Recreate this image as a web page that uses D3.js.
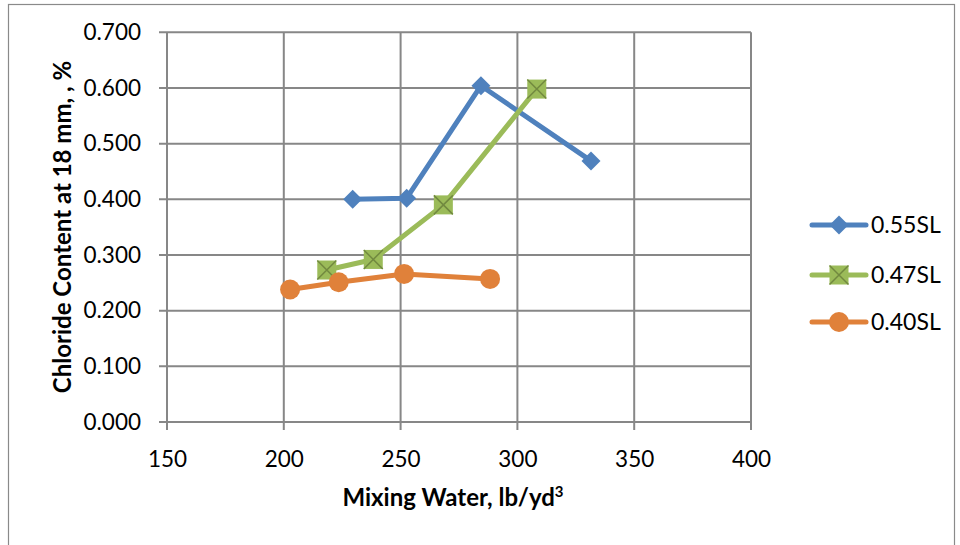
<!DOCTYPE html>
<html><head><meta charset="utf-8">
<script src="https://cdn.jsdelivr.net/npm/d3@7"></script>
<style>body{margin:0;background:#fff}svg{display:block}</style>
</head><body>
<svg id="c" width="960" height="545"></svg>
<script>
const seriesNames = ["0.55SL", "0.47SL", "0.40SL"];
const x55 = [229.5, 252.6, 284.4, 331.5];
const y55 = [0.400, 0.402, 0.604, 0.469];
const x47 = [218.4, 238.3, 268.3, 308.3];
const y47 = [0.273, 0.292, 0.390, 0.598];
const x40 = [202.7, 223.5, 251.5, 288.3];
const y40 = [0.238, 0.251, 0.266, 0.257];
const xTicks = [150, 200, 250, 300, 350, 400];
const yTicks = [0, 0.1, 0.2, 0.3, 0.4, 0.5, 0.6, 0.7];
const xTitle = "Mixing Water, lb/yd";
const yTitle = "Chloride Content at 18 mm, , %";

const colors = ["#4F81BD", "#9BBB59", "#E0813A"];
const markers = ["diamond", "xsquare", "circle"];
const series = [
  {name: seriesNames[0], xs: x55, ys: y55},
  {name: seriesNames[1], xs: x47, ys: y47},
  {name: seriesNames[2], xs: x40, ys: y40}
];

const svg = d3.select("#c");
const font = "Lato, 'Open Sans', sans-serif";
svg.append("rect").attr("x", 8.5).attr("y", 4.5).attr("width", 946).attr("height", 545)
  .attr("fill", "#fff").attr("stroke", "#8a8a8a").attr("stroke-width", 1.2);

const x = d3.scaleLinear().domain([150, 400]).range([167, 751]);
const y = d3.scaleLinear().domain([0, 0.7]).range([422, 32.3]);
const gridColor = "#878787";

const g = svg.append("g");
g.selectAll(".vg").data(xTicks).join("line")
  .attr("x1", d => x(d)).attr("x2", d => x(d)).attr("y1", y(0.7)).attr("y2", y(0) + 8)
  .attr("stroke", gridColor).attr("stroke-width", 2);
g.selectAll(".hg").data(yTicks).join("line")
  .attr("x1", x(150) - 8).attr("x2", x(400)).attr("y1", d => y(d)).attr("y2", d => y(d))
  .attr("stroke", gridColor).attr("stroke-width", 2);

const xAxis = svg.append("g").attr("transform", `translate(0,${y(0)})`)
  .call(d3.axisBottom(x).tickValues(xTicks).tickSize(0).tickPadding(29).tickFormat(d3.format("d")));
xAxis.select(".domain").remove();
xAxis.selectAll("text").attr("font-family", font).attr("font-size", 22.5).attr("fill", "#000");

const yAxis = svg.append("g").attr("transform", `translate(${x(150)},0)`)
  .call(d3.axisLeft(y).tickValues(yTicks).tickSize(0).tickPadding(26).tickFormat(d3.format(".3f")));
yAxis.select(".domain").remove();
yAxis.selectAll("text").attr("font-family", font).attr("font-size", 22.5).attr("fill", "#000");

const xt = svg.append("text").attr("x", 453).attr("y", 506).attr("text-anchor", "middle")
  .attr("font-family", font).attr("font-size", 24).attr("font-weight", "bold").attr("fill", "#000");
xt.append("tspan").text(xTitle);
xt.append("tspan").attr("dy", -9).attr("font-size", 15).text("3");

svg.append("text").attr("transform", "translate(71,227) rotate(-90)").attr("text-anchor", "middle")
  .attr("font-family", font).attr("font-size", 24).attr("font-weight", "bold").attr("fill", "#000")
  .text(yTitle);

function drawMarker(sel, type, color, cx, cy) {
  if (type === "diamond") {
    sel.append("path").attr("d", `M${cx},${cy-9.5}L${cx+9.5},${cy}L${cx},${cy+9.5}L${cx-9.5},${cy}Z`)
      .attr("fill", color);
  } else if (type === "xsquare") {
    sel.append("rect").attr("x", cx-9.5).attr("y", cy-9.5).attr("width", 19).attr("height", 19).attr("fill", color);
    sel.append("path").attr("d", `M${cx-9.5},${cy-9.5}L${cx+9.5},${cy+9.5}M${cx+9.5},${cy-9.5}L${cx-9.5},${cy+9.5}`)
      .attr("stroke", "#71893F").attr("stroke-width", 1.5);
  } else {
    sel.append("circle").attr("cx", cx).attr("cy", cy).attr("r", 10).attr("fill", color);
  }
}

const line = d3.line().x(d => x(d[0])).y(d => y(d[1]));
series.forEach((s, i) => {
  const pts = s.xs.map((v, j) => [v, s.ys[j]]);
  const sg = svg.append("g");
  sg.append("path").datum(pts).attr("d", line).attr("fill", "none")
    .attr("stroke", colors[i]).attr("stroke-width", 5).attr("stroke-linejoin", "round").attr("stroke-linecap", "round");
  pts.forEach(p => drawMarker(sg, markers[i], colors[i], x(p[0]), y(p[1])));
});

const legY = [225, 275, 322];
series.forEach((s, i) => {
  const lg = svg.append("g");
  lg.append("line").attr("x1", 812).attr("x2", 866).attr("y1", legY[i]).attr("y2", legY[i])
    .attr("stroke", colors[i]).attr("stroke-width", 5).attr("stroke-linecap", "round");
  drawMarker(lg, markers[i], colors[i], 839, legY[i]);
  lg.append("text").attr("x", 871).attr("y", legY[i] + 8).attr("font-family", font)
    .attr("font-size", 23).attr("fill", "#000").text(s.name);
});
</script>
</body></html>
